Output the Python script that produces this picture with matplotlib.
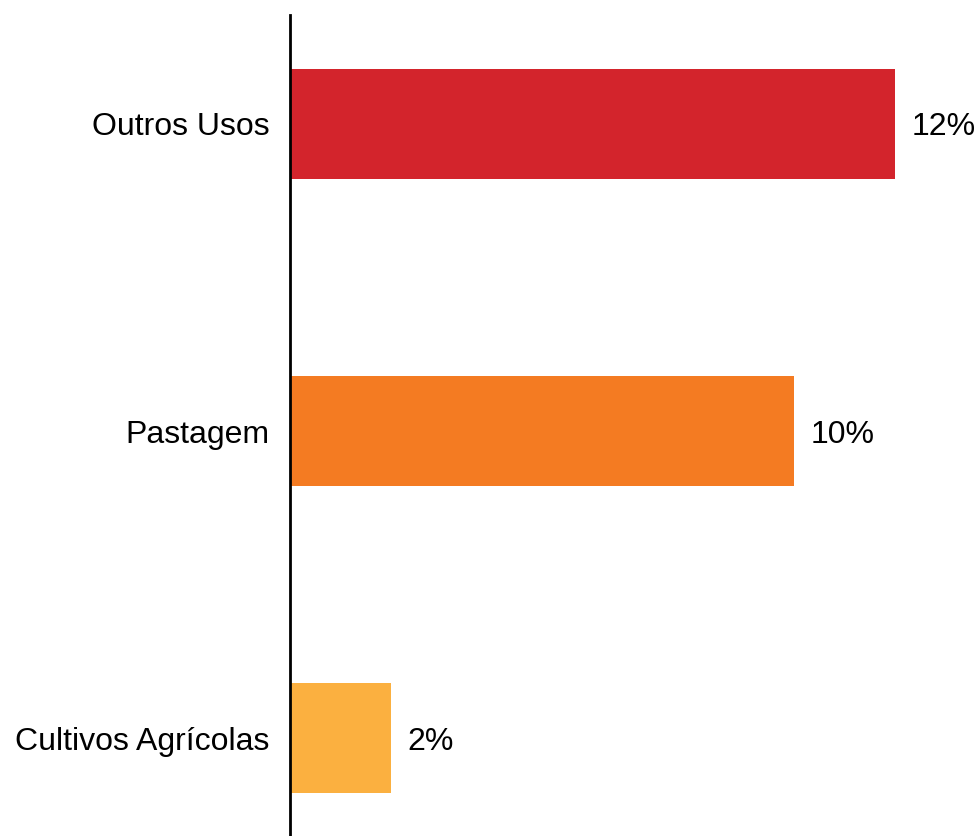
import matplotlib
matplotlib.use("Agg")
import matplotlib.pyplot as plt

categories = ["Outros Usos", "Pastagem", "Cultivos Agrícolas"]
values = [12, 10, 2]
labels = ["12%", "10%", "2%"]
colors = ["#D3242C", "#F47B22", "#FBB040"]

plt.rcParams['font.family'] = ['Liberation Sans', 'DejaVu Sans']

fig = plt.figure(figsize=(9.78, 8.36), dpi=100)
# axes spans from the vertical axis line to the end of the longest bar
ax = fig.add_axes([290 / 978, 0, 605 / 978, 821 / 836])

pos = list(range(len(categories)))
ax.barh(pos, values, height=0.358, color=colors)
ax.set_xlim(0, 12)
ax.set_ylim(2.319, -0.355)

for p, v, t in zip(pos, values, labels):
    ax.text(v + 0.32, p, t, va='center_baseline', ha='left', fontsize=23, clip_on=False)

ax.set_yticks(pos)
ax.set_yticklabels(categories, fontsize=23)
ax.tick_params(axis='y', length=0, pad=15)
ax.set_xticks([])
for s in ['top', 'right', 'bottom']:
    ax.spines[s].set_visible(False)
ax.spines['left'].set_linewidth(2)

fig.savefig("out.png", dpi=100)
